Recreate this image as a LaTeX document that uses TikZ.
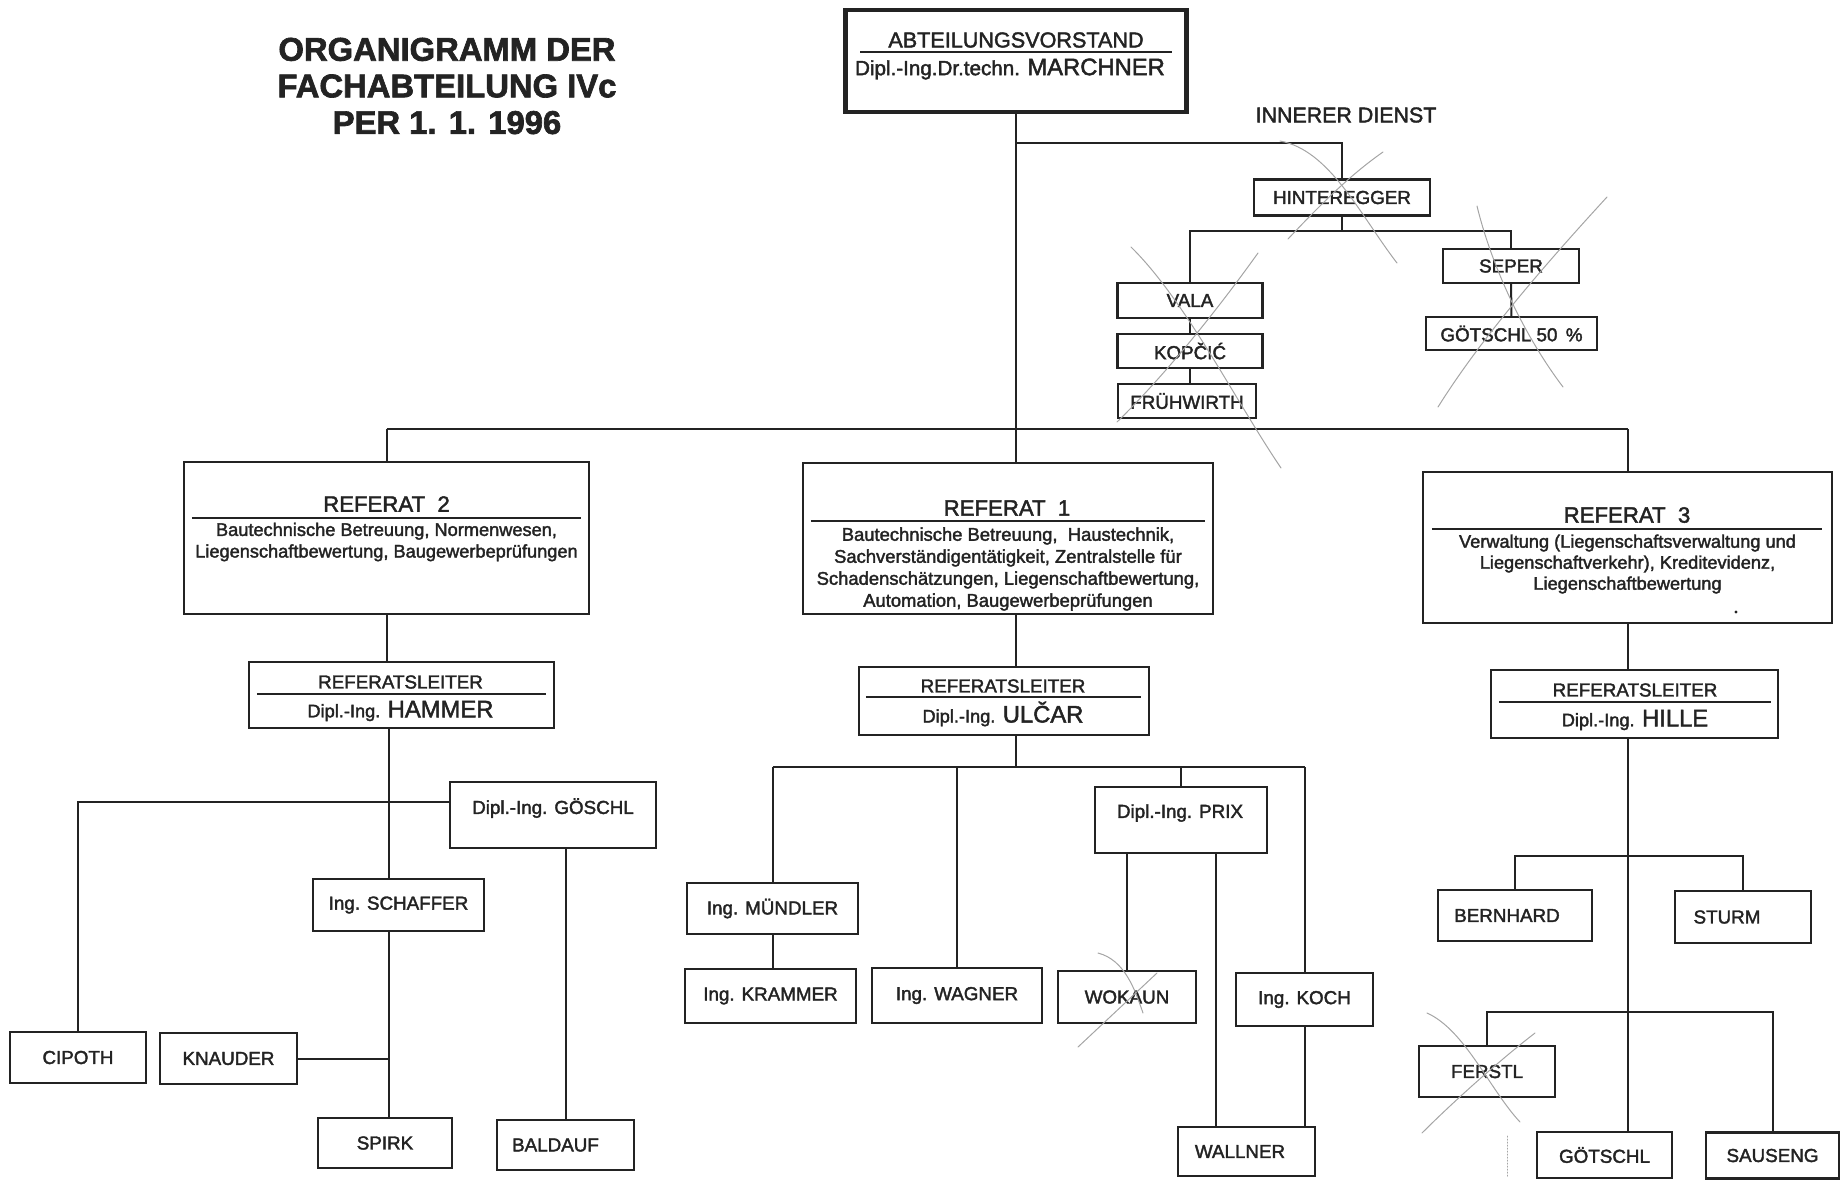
\documentclass[tikz,border=0pt]{standalone}
\usepackage{fontspec}
\setmainfont{Liberation Sans}[FakeBold=2]
\usetikzlibrary{calc}

\definecolor{ink}{RGB}{35,35,35}
\definecolor{pencil}{RGB}{165,165,165}

\newcommand{\smallfnt}{\fontsize{9.1}{11}\selectfont}
\newcommand{\namefnt}{\fontsize{11.9}{13}\selectfont}
\newcommand{\diplname}[1]{{\smallfnt Dipl.-Ing.} {\namefnt #1}}

\tikzset{every picture/.style={line width=0.75pt}}
\tikzset{
  box/.style={draw=ink, line width=1.2pt, inner sep=0pt, text=ink},
  chiefbox/.style={box, line width=2.2pt},
  person/.style={box, font=\fontsize{9.4}{11}\selectfont},
  txt/.style={inner sep=0pt, text=ink, align=center},
  head/.style={txt, font=\fontsize{11.1}{12}\selectfont},
  leiter/.style={txt, font=\fontsize{9.4}{11}\selectfont},
  link/.style={draw=ink, line width=1pt},
  rule/.style={draw=ink, line width=0.8pt},
  strike/.style={draw=pencil, line width=0.5pt, line cap=round},
}

\begin{document}
\begin{tikzpicture}[x=0.5pt,y=0.5pt,yscale=-1,xscale=1]
\useasboundingbox (0,0) rectangle (1843,1180);

% Text Node: title
\node[txt, font=\bfseries\fontsize{16.4}{18.3}\selectfont] (title) at (447,86) {ORGANIGRAMM DER\\FACHABTEILUNG IVc\\PER 1. 1. 1996};

%Shape: Rectangle (Abteilungsvorstand)
\node[chiefbox, minimum width=170.5pt, minimum height=51pt] (chief) at (1016,61) {};
\node[txt, font=\fontsize{10.8}{12}\selectfont] (chiefhead) at (1016,40) {ABTEILUNGSVORSTAND};
\draw[rule] ($(chief.north west)+(17,44)$) -- ($(chief.north east)+(-17,44)$);
\node[txt] (chiefname) at (1010,69) {{\fontsize{10.3}{11}\selectfont Dipl.-Ing.Dr.techn.} {\namefnt MARCHNER}};

% Text Node: innerer Dienst
\node[txt, font=\fontsize{10.7}{12}\selectfont] (inner) at (1346,115) {INNERER DIENST};
\node[person, minimum width=88pt, minimum height=18pt] (hint) at (1342,197.5) {HINTEREGGER};
\node[person, minimum width=72.5pt, minimum height=17.5pt] (vala) at (1190,300.5) {VALA};
\node[person, minimum width=72.5pt, minimum height=17pt] (kopcic) at (1190,351) {KOPČIĆ};
\node[person, minimum width=69pt, minimum height=17pt] (fruh) at (1187,401) {FRÜHWIRTH};
\node[person, minimum width=68pt, minimum height=17pt] (seper) at (1511,266) {SEPER};
\node[person, minimum width=85.5pt, minimum height=16.5pt] (gotH) at (1511.5,333.5) {GÖTSCHL 50\,\ \%};

%Shape: Rectangle (Referate)
\node[box, minimum width=202.5pt, minimum height=76pt] (ref2) at (386.5,538) {};
\node[head] (ref2head) at (386.5,504) {REFERAT\ \ 2};
\draw[rule] ($(ref2.north west)+(9,57)$) -- ($(ref2.north east)+(-9,57)$);
\node[txt, font=\fontsize{9.1}{10.8}\selectfont] (ref2text) at (386.5,542) {Bautechnische Betreuung, Normenwesen,\\Liegenschaftbewertung, Baugewerbeprüfungen};

\node[box, minimum width=205pt, minimum height=75.5pt] (ref1) at (1008,538.5) {};
\node[head] (ref1head) at (1007,508) {REFERAT\ \ 1};
\draw[rule] ($(ref1.north west)+(9,59)$) -- ($(ref1.north east)+(-9,59)$);
\node[txt, font=\fontsize{9.2}{11}\selectfont] (ref1text) at (1008,569) {Bautechnische Betreuung,~ Haustechnik,\\Sachverständigentätigkeit, Zentralstelle für\\Schadenschätzungen, Liegenschaftbewertung,\\Automation, Baugewerbeprüfungen};

\node[box, minimum width=204.5pt, minimum height=75.5pt] (ref3) at (1627.5,547.5) {};
\node[head] (ref3head) at (1627,515) {REFERAT\ \ 3};
\draw[rule] ($(ref3.north west)+(10,58)$) -- ($(ref3.north east)+(-11,58)$);
\node[txt, font=\fontsize{9.1}{10.5}\selectfont] (ref3text) at (1627.5,564) {Verwaltung (Liegenschaftsverwaltung und\\Liegenschaftverkehr), Kreditevidenz,\\Liegenschaftbewertung};
\fill[ink] (1736,612) circle (1.6);

%Shape: Rectangle (Referatsleiter)
\node[box, minimum width=152.5pt, minimum height=33pt] (leit2) at (401.5,695) {};
\node[leiter] (leit2head) at (400.5,682) {REFERATSLEITER};
\draw[rule] ($(leit2.north west)+(9,33)$) -- ($(leit2.north east)+(-9,33)$);
\node[txt] (leit2name) at (400.5,711) {\diplname{HAMMER}};

\node[box, minimum width=145pt, minimum height=34pt] (leit1) at (1004,701) {};
\node[leiter] (leit1head) at (1003,686) {REFERATSLEITER};
\draw[rule] ($(leit1.north west)+(8,31)$) -- ($(leit1.north east)+(-9,31)$);
\node[txt] (leit1name) at (1003,714) {\diplname{ULČAR}};

\node[box, minimum width=143.5pt, minimum height=34pt] (leit3) at (1634.5,704) {};
\node[leiter] (leit3head) at (1635,690) {REFERATSLEITER};
\draw[rule] ($(leit3.north west)+(9,33)$) -- ($(leit3.north east)+(-8,33)$);
\node[txt] (leit3name) at (1635,720) {\diplname{HILLE}};

%Shape: Rectangle (Referat 2 staff)
\node[box, minimum width=103pt, minimum height=33pt] (goeschl) at (553,815) {};
\node[txt, font=\fontsize{9.4}{11}\selectfont] (goeschlt) at (553,808) {Dipl.-Ing. GÖSCHL};
\coordinate (goeschlin) at ($(goeschl.north west)+(0,21)$);
\node[person, minimum width=85.5pt, minimum height=26pt] (schaffer) at (398.5,905) {Ing. SCHAFFER};
\node[person, minimum width=68pt, minimum height=25.5pt] (cipoth) at (78,1057.5) {CIPOTH};
\node[person, minimum width=68.5pt, minimum height=25.5pt] (knauder) at (228.5,1058.5) {KNAUDER};
\node[person, minimum width=67pt, minimum height=25pt] (spirk) at (385,1143) {SPIRK};
\node[person, minimum width=68.5pt, minimum height=25pt] (baldauf) at (565.5,1145) {BALDAUF\hspace*{10pt}};

%Shape: Rectangle (Referat 1 staff)
\node[box, minimum width=86pt, minimum height=33pt] (prix) at (1181,820) {};
\node[txt, font=\fontsize{9.4}{11}\selectfont] (prixt) at (1180,813) {Dipl.-Ing. PRIX};
\node[person, minimum width=85.5pt, minimum height=25.5pt] (muendler) at (772.5,908.5) {Ing. MÜNDLER};
\node[person, minimum width=85.5pt, minimum height=27pt] (krammer) at (770.5,996) {Ing. KRAMMER};
\node[person, minimum width=85pt, minimum height=27.5pt] (wagner) at (957,995.5) {Ing. WAGNER};
\node[person, minimum width=69pt, minimum height=26pt] (wokaun) at (1127,997) {WOKAUN};
\node[person, minimum width=68.5pt, minimum height=26.5pt] (koch) at (1304.5,999.5) {Ing. KOCH};
\node[person, minimum width=68.5pt, minimum height=24.5pt] (wallner) at (1246.5,1151.5) {WALLNER\hspace*{6.5pt}};

%Shape: Rectangle (Referat 3 staff)
\node[person, minimum width=77pt, minimum height=25.5pt] (bernhard) at (1515,915.5) {BERNHARD\hspace*{8pt}};
\node[person, minimum width=68pt, minimum height=26pt] (sturm) at (1743,917) {STURM\hspace*{16pt}};
\node[person, minimum width=68pt, minimum height=25.5pt] (ferstl) at (1487,1071.5) {FERSTL};
\node[person, minimum width=67.5pt, minimum height=23pt] (goetschl) at (1604.5,1155) {GÖTSCHL};
\node[person, minimum width=66.5pt, minimum height=23pt] (sauseng) at (1772.5,1155.5) {SAUSENG};

%Straight Lines: top
\draw[link] (chief.south) -- (ref1.north -| chief.south);
\draw[link] (chief.south |- 0,143) -| (hint.north);
\draw[link] (hint.south) -- ++(0,14) -| (vala.north);
\draw[link] (hint.south) ++(0,14) -| (seper.north);
\draw[link] (vala) -- (kopcic);
\draw[link] (kopcic.south) -- (kopcic.south |- fruh.north);
\draw[link] (seper) -- (gotH);
\coordinate (busL) at (ref2.north |- 0,429);
\draw[link] (busL) -- (ref3.north |- busL);
\draw[link] (busL) -- (ref2.north);
\draw[link] (ref3.north |- busL) -- (ref3.north);

%Straight Lines: Referat 2
\draw[link] (ref2.south) -- (ref2.south |- leit2.north);
\coordinate (stem2) at (389,731);
\draw[link] (leit2.south -| stem2) -- (schaffer.north -| stem2);
\draw[link] (schaffer.south -| stem2) -- (spirk.north -| stem2);
\draw[link] (goeschlin) -| (cipoth.north);
\draw[link] (knauder.east) -- (knauder.east -| stem2);
\draw[link] (baldauf.north) -- (baldauf.north |- goeschl.south);

%Straight Lines: Referat 1
\draw[link] (ref1.south -| chief.south) -- (leit1.north -| chief.south);
\coordinate (bus1) at (chief.south |- 0,767);
\draw[link] (leit1.south -| chief.south) -- (bus1);
\draw[link] (muendler.north |- bus1) -- (koch.north |- bus1);
\draw[link] (muendler.north |- bus1) -- (muendler.north);
\draw[link] (muendler.south) -- (muendler.south |- krammer.north);
\draw[link] (wagner.north |- bus1) -- (wagner.north);
\draw[link] (prix.north |- bus1) -- (prix.north);
\draw[link] (wokaun.north) -- (wokaun.north |- prix.south);
\coordinate (wallnerin) at ($(wallner.north west)!0.28!(wallner.north east)$);
\draw[link] (wallnerin) -- (wallnerin |- prix.south);
\draw[link] (koch.north |- bus1) -- (koch.north);
\draw[link] (koch.south) -- (koch.south |- wallner.north);

%Straight Lines: Referat 3
\draw[link] (ref3.south) -- (ref3.south |- leit3.north);
\draw[link] (leit3.south -| ref3.south) -- (goetschl.north -| ref3.south);
\coordinate (bus3a) at (ref3.south |- 0,856);
\coordinate (bus3b) at (ref3.south |- 0,1012);
\draw[link] (bernhard.north) |- (bus3a) -| (sturm.north);
\draw[link] (ferstl.north) |- (bus3b) -| (sauseng.north);

% pencil strikes
\draw[strike] (1280,141) .. controls (1330,150) and (1360,215) .. (1397,263);
\draw[strike] (1288,239) .. controls (1320,205) and (1350,175) .. (1383,152);
\draw[strike] (1131,247) .. controls (1185,300) and (1235,400) .. (1281,468);
\draw[strike] (1258,253) .. controls (1210,320) and (1160,380) .. (1117,422);
\draw[strike] (1607,197) .. controls (1540,270) and (1480,340) .. (1438,407);
\draw[strike] (1477,206) .. controls (1490,260) and (1520,330) .. (1563,387);
\draw[strike] (1098,953) .. controls (1125,960) and (1135,990) .. (1143,1013);
\draw[strike] (1157,973) -- (1078,1047);
\draw[strike] (1427,1013) .. controls (1465,1030) and (1490,1090) .. (1520,1122);
\draw[strike] (1535,1033) .. controls (1500,1060) and (1455,1100) .. (1422,1133);
\draw[strike, densely dotted] (1507,1136) -- (1507,1178);

\end{tikzpicture}
\end{document}
